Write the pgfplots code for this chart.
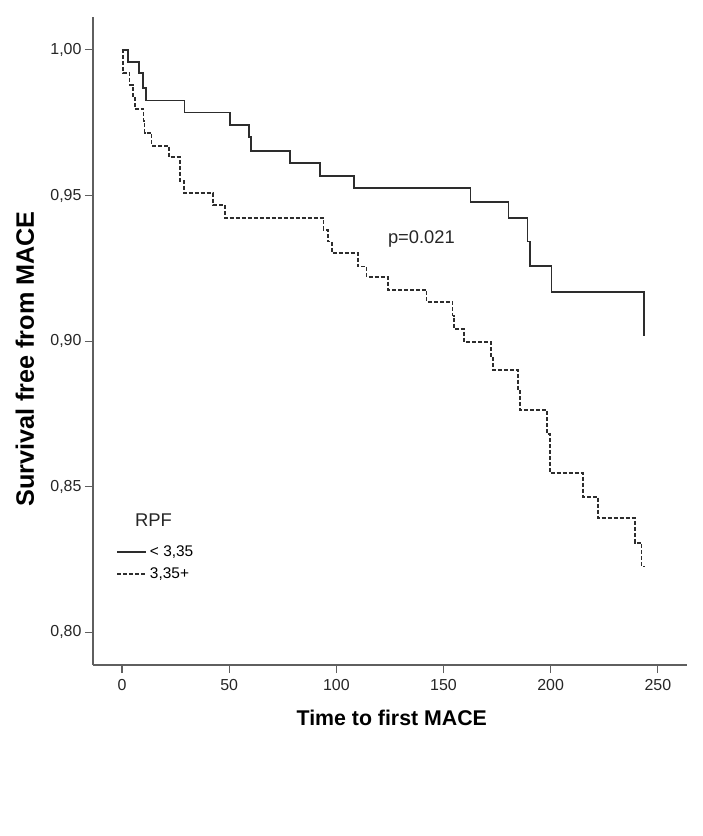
\documentclass[border=0pt]{standalone}
\usepackage{pgfplots}
\pgfplotsset{compat=1.18}
\usepackage{fontspec}
\setmainfont{Liberation Sans}
\definecolor{curve}{RGB}{45,45,45}
\definecolor{axisgray}{RGB}{95,95,95}
\begin{document}
\begin{tikzpicture}
\begin{axis}[
  at={(0,0)}, anchor=south west,
  scale only axis, width=594bp, height=648bp,
  xmin=-13.53, xmax=263.6, ymin=0.7888, ymax=1.0113,
  axis lines*=left,
  axis line style={axisgray, line width=1.1bp, -},
  xtick={0,50,100,150,200,250},
  xticklabels={0,50,100,150,200,250},
  ytick={0.80,0.85,0.90,0.95,1.00},
  yticklabels={{0,80},{0,85},{0,90},{0,95},{1,00}},
  tick align=outside, major tick length=8bp,
  tick style={axisgray, line width=1.1bp},
  ticklabel style={font=\fontsize{16}{19}\selectfont, text=black!85},
  xticklabel style={yshift=-3bp},
  xlabel={Time to first MACE},
  ylabel={Survival free from MACE},
  xlabel style={font=\bfseries\fontsize{21.4}{25}\selectfont, at={(axis description cs:0.503,-0.0818)}, anchor=center},
  ylabel style={font=\bfseries\fontsize{25.3}{30}\selectfont, at={(axis description cs:-0.1145,0.4722)}, anchor=center},
  legend style={at={(axis description cs:0.0387,0.187)}, anchor=north west, draw=none, fill=none,
    inner sep=0pt, row sep=5.5bp, column sep=2bp,
    font=\fontsize{15.5}{18}\selectfont,
    nodes={inner sep=1bp, text height=11.5bp, text depth=3bp}},
  legend cell align=left,
  legend image code/.code={\draw[#1] (0bp,0bp) -- (29bp,0bp);},
]
\addplot[const plot, curve, line width=1.8bp] coordinates {
(0,1.0)(2.9,0.9959)(8.1,0.9920)(9.9,0.9868)(11.2,0.9826)(29.2,0.9785)(50.4,0.9741)
(59.2,0.9700)(60.0,0.9654)(78.4,0.9611)(92.4,0.9568)(108.3,0.9525)(162.6,0.9478)
(180.3,0.9423)(189.2,0.9342)(190.3,0.9258)(200.4,0.9168)(243.5,0.9019)
};
\addlegendentry{< 3,35}
\addplot[const plot, curve, line width=1.8bp, dash pattern=on 4bp off 2bp] coordinates {
(0,1.0)(0.5,0.992)(3.5,0.988)(5,0.984)(6,0.9797)(10,0.9755)(10.5,0.9714)(13.8,0.9671)
(22.1,0.9631)(27.1,0.955)(29,0.9508)(42.6,0.9468)(48.0,0.9422)(94,0.9382)(96,0.9342)
(98,0.9302)(110.2,0.9256)(114.1,0.9219)(124.2,0.9176)(142.1,0.9134)(154.2,0.9088)
(155,0.9042)(159.7,0.8998)(172,0.895)(173,0.8901)(184.9,0.883)(185.5,0.8764)
(198.1,0.868)(199.5,0.8546)(215.2,0.8466)(222.2,0.8392)(239.3,0.8308)(242.4,0.8226)(244,0.8226)
};
\addlegendentry{3,35+}
\node[font=\fontsize{18.5}{22}\selectfont, anchor=base, text=black!85] at (axis cs:14.7,0.8363) {RPF};
\node[font=\fontsize{18.4}{22}\selectfont, anchor=base, text=black!85] at (axis cs:139.7,0.93362) {p=0.021};
\end{axis}
\path[use as bounding box] (-93bp,-171bp) rectangle (610bp,665bp);
\end{tikzpicture}
\end{document}
